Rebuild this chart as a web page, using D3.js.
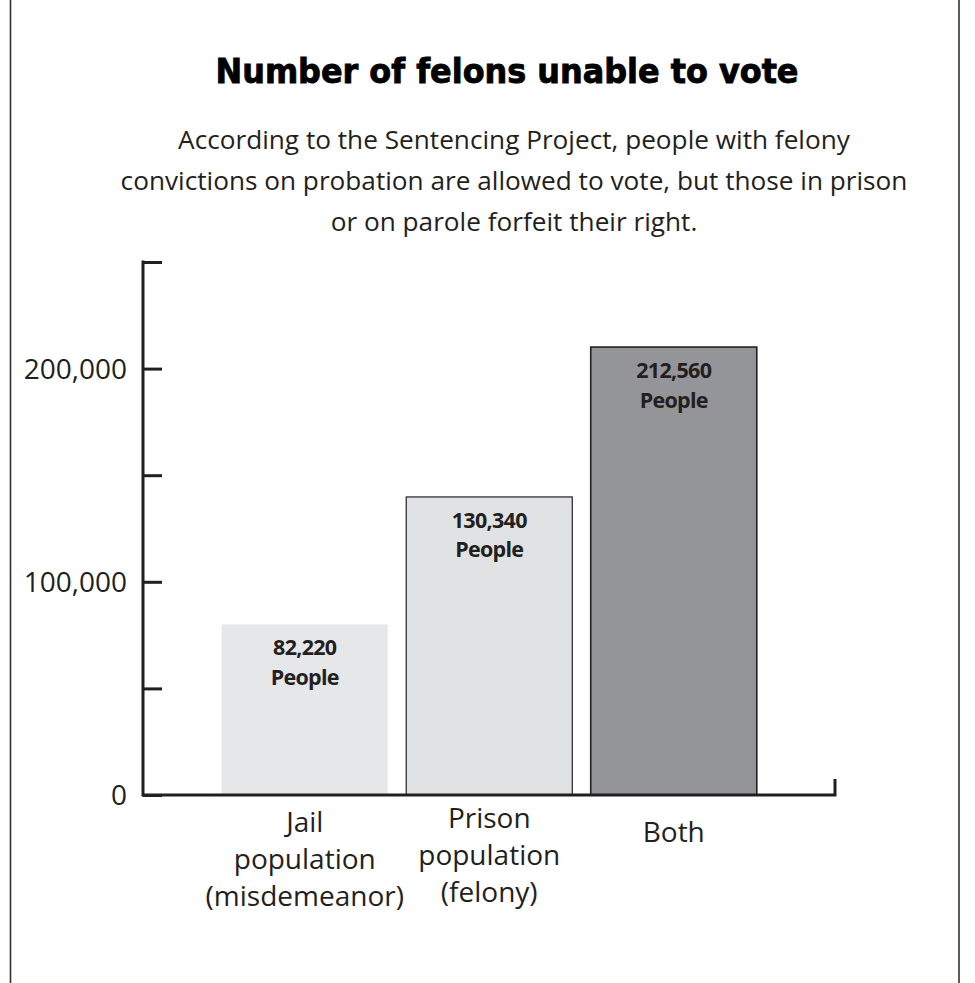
<!DOCTYPE html>
<html>
<head>
<meta charset="utf-8">
<script src="https://cdn.jsdelivr.net/npm/d3@7"></script>
<style>
  body { margin: 0; background: #fff; }
  svg { display: block; }
</style>
</head>
<body>
<svg id="chart" width="975" height="983"></svg>
<script>
// data
const categories = ["Jail", "Prison", "Both"]
const categoryLines = [
    ["Jail", "population", "(misdemeanor)"],
    ["Prison", "population", "(felony)"],
    ["Both"]
]
const barValues = [80000, 139800, 210100]   // bar heights as drawn
const labelValues = ["82,220", "130,340", "212,560"]
const yTicks = [0, 50000, 100000, 150000, 200000, 250000]
const yTickLabels = ["0", "", "100,000", "", "200,000", ""]

const title = "Number of felons unable to vote"
const subtitle = [
    "According to the Sentencing Project, people with felony",
    "convictions on probation are allowed to vote, but those in prison",
    "or on parole forfeit their right."
]

const ink = "#231f20"
const fills = ["#e6e7e8", "#e1e2e4", "#939598"]
const strokes = ["none", ink, ink]

const svg = d3.select("#chart")

// side rules of the frame
svg.append("line").attr("x1", 10.5).attr("x2", 10.5).attr("y1", 0).attr("y2", 983)
    .attr("stroke", "#333").attr("stroke-width", 1.6)
svg.append("line").attr("x1", 959).attr("x2", 959).attr("y1", 0).attr("y2", 983)
    .attr("stroke", "#333").attr("stroke-width", 1.6)

svg.append("text")
    .attr("x", 507).attr("y", 83)
    .attr("text-anchor", "middle")
    .attr("font-family", "'DejaVu Sans', sans-serif")
    .attr("font-weight", 700)
    .attr("font-size", 34)
    .attr("textLength", 583)
    .attr("lengthAdjust", "spacingAndGlyphs")
    .attr("fill", "#000")
    .attr("stroke", "#000")
    .attr("stroke-width", 0.9)
    .text(title)

svg.append("g").selectAll("text")
    .data(subtitle)
    .join("text")
    .attr("x", 514)
    .attr("y", (d, i) => 149 + i * 41)
    .attr("text-anchor", "middle")
    .attr("font-family", "'Open Sans', sans-serif")
    .attr("font-size", 26.2)
    .attr("fill", ink)
    .text(d => d)

const y = d3.scaleLinear().domain([0, 250000]).range([795, 262])
const x = d3.scaleBand().domain(categories).range([212.5, 766])
    .paddingInner(0.1).paddingOuter(0.05)

const axisX0 = 143

// bars
const bars = svg.append("g")
bars.selectAll("rect")
    .data(categories)
    .join("rect")
    .attr("x", d => x(d))
    .attr("y", (d, i) => y(barValues[i]))
    .attr("width", x.bandwidth())
    .attr("height", (d, i) => y(0) - y(barValues[i]))
    .attr("fill", (d, i) => fills[i])
    .attr("stroke", (d, i) => strokes[i])
    .attr("stroke-width", (d, i) => i == 2 ? 1.6 : 1.2)

// value labels inside bars
const vl = svg.append("g")
    .attr("font-family", "'Open Sans', sans-serif")
    .attr("font-weight", 700)
    .attr("font-size", 21.5)
    .attr("letter-spacing", -0.7)
    .attr("fill", ink)
    .attr("text-anchor", "middle")
categories.forEach((c, i) => {
    let cx = x(c) + x.bandwidth() / 2
    let top = y(barValues[i])
    vl.append("text").attr("x", cx).attr("y", top + 31).text(labelValues[i])
    vl.append("text").attr("x", cx).attr("y", top + 60.5).text("People")
})

// y axis, ticks pointing into the plot
const yAxis = svg.append("g")
    .attr("transform", `translate(${axisX0},0)`)
    .call(d3.axisRight(y).tickValues(yTicks).tickSize(19).tickFormat(""))
yAxis.select(".domain").remove()
yAxis.selectAll("line").attr("stroke", ink).attr("stroke-width", 3)
svg.append("line")
    .attr("x1", axisX0).attr("x2", axisX0)
    .attr("y1", y(250000) - 1.5).attr("y2", y(0) + 1.5)
    .attr("stroke", ink).attr("stroke-width", 3)

svg.append("g").selectAll("text")
    .data(yTicks)
    .join("text")
    .attr("x", 127)
    .attr("y", d => y(d) + 10)
    .attr("text-anchor", "end")
    .attr("font-family", "'Open Sans', sans-serif")
    .attr("font-size", 28)
    .attr("fill", ink)
    .text((d, i) => yTickLabels[i])

// x axis baseline with the small end tick
svg.append("path")
    .attr("d", `M${axisX0},${y(0)}H835V${y(0) - 16}`)
    .attr("fill", "none")
    .attr("stroke", ink)
    .attr("stroke-width", 3)

// category labels
const firstLine = [832, 828, 842]
const cl = svg.append("g")
    .attr("font-family", "'Open Sans', sans-serif")
    .attr("font-size", 28)
    .attr("fill", ink)
    .attr("text-anchor", "middle")
categories.forEach((c, i) => {
    let cx = x(c) + x.bandwidth() / 2
    categoryLines[i].forEach((line, j) => {
        cl.append("text").attr("x", cx).attr("y", firstLine[i] + j * 37).text(line)
    })
})
</script>
</body>
</html>
